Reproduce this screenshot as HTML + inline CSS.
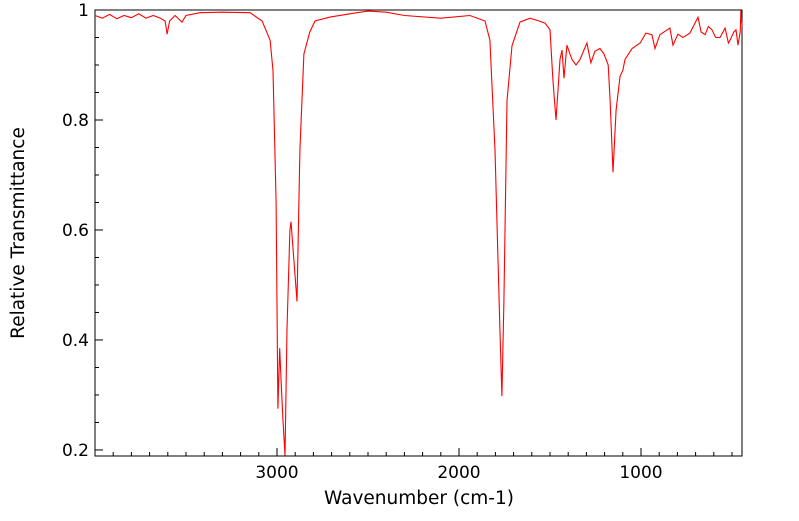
<!DOCTYPE html>
<html><head><meta charset="utf-8"><style>
body{margin:0;background:#fff;width:799px;height:516px;overflow:hidden}
text{font-family:"DejaVu Sans","Liberation Sans",sans-serif;fill:#000}
</style></head><body>
<svg id="chart" width="799" height="516" xmlns="http://www.w3.org/2000/svg">
<rect x="95" y="10" width="647" height="446" fill="none" stroke="#000" stroke-width="1"/>
<g id="ticks"></g>
<polyline id="spectrum" fill="none" stroke="#ff0000" stroke-width="1.1"/>
<text x="419" y="504" font-size="18.5" text-anchor="middle">Wavenumber (cm-1)</text>
<text transform="translate(24,233) rotate(-90)" font-size="18.5" text-anchor="middle">Relative Transmittance</text>
</svg>
<script>
const wavenumbers=[4000,3960,3920,3880,3840,3800,3760,3720,3680,3640,3615,3604,3590,3560,3522,3500,3423,3300,3148,3082,3038,3022,3005,2995,2985,2978,2968,2956,2945,2929,2923,2907,2890,2874,2852,2820,2791,2709,2600,2500,2400,2300,2100,1940,1857,1830,1802,1775,1764,1753,1736,1709,1665,1610,1560,1527,1500,1484,1467,1455,1445,1434,1423,1407,1390,1379,1357,1335,1297,1275,1253,1225,1203,1180,1170,1154,1137,1115,1100,1088,1049,1005,973,940,923,896,841,824,797,770,731,687,670,648,630,610,590,566,538,520,511,490,478,467,455,451,445];
const transmittance=[0.99,0.985,0.992,0.984,0.99,0.986,0.993,0.985,0.99,0.985,0.98,0.956,0.98,0.99,0.978,0.99,0.995,0.996,0.995,0.98,0.945,0.89,0.65,0.275,0.385,0.33,0.26,0.19,0.42,0.6,0.615,0.545,0.47,0.745,0.92,0.96,0.98,0.987,0.993,0.998,0.996,0.99,0.985,0.99,0.98,0.945,0.745,0.42,0.298,0.47,0.835,0.935,0.978,0.985,0.98,0.976,0.964,0.873,0.8,0.86,0.91,0.927,0.876,0.936,0.92,0.91,0.9,0.91,0.94,0.904,0.925,0.93,0.92,0.9,0.836,0.705,0.818,0.88,0.89,0.91,0.93,0.94,0.958,0.955,0.93,0.955,0.967,0.936,0.956,0.95,0.958,0.987,0.96,0.955,0.97,0.964,0.95,0.95,0.967,0.94,0.945,0.96,0.964,0.936,0.96,1.0,0.97];
const xTickLabels=[3000,2000,1000];
const yTickLabels=[0.2,0.4,0.6,0.8,1];
const X0=95,X1=742,Y0=10,Y1=456;
const xMax=4000,xMin=445,yMax=1.0,yMin=0.189;
function sx(w){return X0+(xMax-w)/(xMax-xMin)*(X1-X0);}
function sy(t){return Y0+(yMax-t)/(yMax-yMin)*(Y1-Y0);}
const NS='http://www.w3.org/2000/svg';
const line=document.getElementById('spectrum');
line.setAttribute('points',wavenumbers.map((w,i)=>sx(w).toFixed(1)+','+sy(transmittance[i]).toFixed(1)).join(' '));
const g=document.getElementById('ticks');
function mk(tag,attrs){const e=document.createElementNS(NS,tag);for(const k in attrs)e.setAttribute(k,attrs[k]);g.appendChild(e);return e;}
for(let w=3900;w>xMin;w-=100){
  const major=w%1000===0;
  const t=mk('line',{x1:sx(w),x2:sx(w),y1:Y1,y2:Y1-(major?8:4),stroke:'#000'});
  
  
}
xTickLabels.forEach(v=>{
  const t=mk('text',{x:sx(v),y:Y1+22,'font-size':17,'text-anchor':'middle'});
  t.textContent=v;
  
  
});
for(let k=4;k<=20;k++){
  const v=k*0.05;const major=k%4===0;
  const t=mk('line',{x1:X0,x2:X0+(major?8:4),y1:sy(v),y2:sy(v),stroke:'#000'});
  
  
}
yTickLabels.forEach(v=>{
  const t=mk('text',{x:X0-6,y:sy(v)+6,'font-size':17,'text-anchor':'end'});
  t.textContent=v;
  
  
});
</script>
</body></html>
